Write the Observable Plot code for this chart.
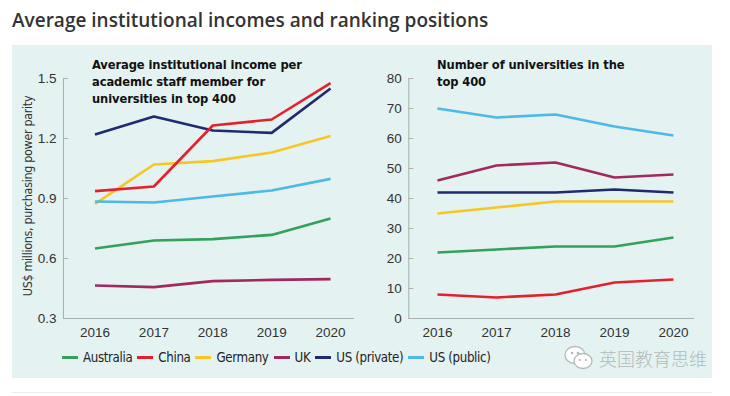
<!DOCTYPE html>
<html>
<head>
<meta charset="utf-8">
<script src="https://cdn.jsdelivr.net/npm/d3@7"></script>
<script src="https://cdn.jsdelivr.net/npm/@observablehq/plot@0.6"></script>
<style>
  html, body { margin: 0; padding: 0; background: #fff; }
  #page { position: relative; width: 730px; height: 396px; overflow: hidden; }
  #title { position: absolute; left: 12px; top: 7px; font-family: "Open Sans", sans-serif; font-weight: 600; font-size: 19px; color: #333; white-space: nowrap; }
  #panel { position: absolute; left: 12px; top: 45px; width: 700px; height: 333px; background: #e4f2f2; }
  #rule { position: absolute; left: 12px; top: 392px; width: 700px; height: 1px; background: #ececec; }
  .chart { position: absolute; top: 0; }
  .sub { position: absolute; font-family: "Liberation Sans Narrow", "DejaVu Sans Condensed", sans-serif; font-weight: bold; font-size: 12.8px; line-height: 17px; color: #111; white-space: nowrap; letter-spacing: -0.1px; }
  #ylabel { position: absolute; left: 27px; top: 196px; transform: translate(-50%, -50%) rotate(-90deg); font-family: "Liberation Sans Narrow", "DejaVu Sans Condensed", sans-serif; font-size: 12.5px; letter-spacing: -0.35px; color: #333; white-space: nowrap; }
  #legend { position: absolute; left: 62px; top: 350px; display: flex; align-items: center; font-family: "Liberation Sans Narrow", "DejaVu Sans Condensed", sans-serif; font-size: 13.2px; letter-spacing: -0.35px; color: #222; white-space: nowrap; }
  .item { display: flex; align-items: center; margin-right: 5px; }
  .sw { width: 16px; height: 3px; margin-right: 5px; }
  #wm { position: absolute; left: 563px; top: 344px; display: flex; align-items: center; color: #b3baba; font-family: "Noto Sans CJK SC", sans-serif; font-weight: 300; font-size: 18px; white-space: nowrap; }
</style>
</head>
<body>
<div id="page">
  <div id="title"></div>
  <div id="panel"></div>
  <div id="rule"></div>
  <div id="left" class="chart" style="left:0px"></div>
  <div id="right" class="chart" style="left:365px"></div>
  <div id="subL" class="sub" style="left:92px; top:56px"></div>
  <div id="subR" class="sub" style="left:437px; top:56px"></div>
  <div id="ylabel"></div>
  <div id="legend"></div>
  <div id="wm"></div>
</div>
<script>
const titleText = "Average institutional incomes and ranking positions";
const subtitleLeft = ["Average institutional income per", "academic staff member for", "universities in top 400"];
const subtitleRight = ["Number of universities in the", "top 400"];
const yLabelLeft = "US$ millions, purchasing power parity";
const watermark = "英国教育思维";

const years = [2016, 2017, 2018, 2019, 2020];
const seriesNames = ["Australia", "China", "Germany", "UK", "US (private)", "US (public)"];
const seriesColors = ["#33a05c", "#e3202c", "#f6c623", "#a2285e", "#1f2b6e", "#4eb8e6"];

// Left panel: average institutional income (US$ millions, PPP)
const australiaIncome = [0.65, 0.69, 0.697, 0.718, 0.80];
const chinaIncome     = [0.937, 0.96, 1.265, 1.295, 1.477];
const germanyIncome   = [0.873, 1.07, 1.087, 1.13, 1.213];
const ukIncome        = [0.465, 0.457, 0.487, 0.493, 0.497];
const usPrivateIncome = [1.22, 1.31, 1.24, 1.228, 1.45];
const usPublicIncome  = [0.885, 0.88, 0.91, 0.94, 0.998];

// Right panel: number of universities in the top 400
const australiaCount = [22, 23, 24, 24, 27];
const chinaCount     = [8, 7, 8, 12, 13];
const germanyCount   = [35, 37, 39, 39, 39];
const ukCount        = [46, 51, 52, 47, 48];
const usPrivateCount = [42, 42, 42, 43, 42];
const usPublicCount  = [70, 67, 68, 64, 61];

const incomeTicks = [0.3, 0.6, 0.9, 1.2, 1.5];
const countTicks = [0, 10, 20, 30, 40, 50, 60, 70, 80];

const drawOrder = ["Australia", "Germany", "US (public)", "UK", "US (private)", "China"];

function toRows(arrays) {
  const rows = [];
  drawOrder.forEach(name => {
    const i = seriesNames.indexOf(name);
    arrays[i].forEach((v, j) => rows.push({series: name, year: years[j], value: v}));
  });
  return rows;
}
const incomeRows = toRows([australiaIncome, chinaIncome, germanyIncome, ukIncome, usPrivateIncome, usPublicIncome]);
const countRows = toRows([australiaCount, chinaCount, germanyCount, ukCount, usPrivateCount, usPublicCount]);

const tickFont = {fontFamily: "'Liberation Sans', Arial, sans-serif", fontSize: "13.5px"};
const axisGray = "#a9b0b0";

function makeChart(rows, opts) {
  return Plot.plot({
    width: 365, height: 345,
    marginLeft: opts.ml, marginRight: opts.mr, marginTop: 78, marginBottom: 27,
    style: {background: "transparent", color: "#333", ...tickFont},
    x: {domain: opts.xDomain},
    y: {domain: opts.yDomain},
    color: {domain: seriesNames, range: seriesColors},
    marks: [
      Plot.frame({anchor: "left", stroke: axisGray, strokeOpacity: 1}),
      Plot.frame({anchor: "bottom", stroke: axisGray, strokeOpacity: 1}),
      Plot.axisY(opts.yTicks, {anchor: "left", tickSize: 5, dx: 5, stroke: axisGray, strokeOpacity: 1, tickFormat: () => "", label: null}),
      Plot.axisY(opts.yTicks, {anchor: "left", tickSize: 0, tickPadding: 7, tickFormat: opts.yFormat, label: null, fill: "#333"}),
      Plot.axisX(years, {anchor: "bottom", tickSize: 0, tickPadding: 9, tickFormat: d => String(d), label: null, fill: "#333"}),
      Plot.line(rows, {x: "year", y: "value", z: "series", stroke: "series", strokeWidth: 2.6, strokeLinejoin: "round", strokeLinecap: "butt", curve: "linear"})
    ]
  });
}

document.getElementById("left").appendChild(makeChart(incomeRows, {
  ml: 63, mr: 12, xDomain: [2015.465, 2020.39], yDomain: [0.3, 1.5],
  yTicks: incomeTicks, yFormat: d3.format(".1f")
}));
document.getElementById("right").appendChild(makeChart(countRows, {
  ml: 43.3, mr: 37, xDomain: [2015.514, 2020.34], yDomain: [0, 80],
  yTicks: countTicks, yFormat: d => String(d)
}));

document.getElementById("title").textContent = titleText;
document.getElementById("subL").innerHTML = subtitleLeft.join("<br>");
document.getElementById("subR").innerHTML = subtitleRight.join("<br>");
document.getElementById("ylabel").textContent = yLabelLeft;

const legend = document.getElementById("legend");
seriesNames.forEach((name, i) => {
  const item = document.createElement("div");
  item.className = "item";
  const sw = document.createElement("div");
  sw.className = "sw";
  sw.style.background = seriesColors[i];
  const t = document.createElement("span");
  t.textContent = name;
  item.appendChild(sw); item.appendChild(t);
  legend.appendChild(item);
});

const wm = document.getElementById("wm");
wm.innerHTML = '<svg width="32" height="28" viewBox="0 0 32 28" style="margin-right:4px">' +
  '<ellipse cx="12" cy="11" rx="10" ry="8.5" fill="#fff" stroke="#b3baba" stroke-width="1.3"/>' +
  '<ellipse cx="20" cy="17" rx="9" ry="7.5" fill="#fff" stroke="#b3baba" stroke-width="1.3"/>' +
  '<circle cx="9" cy="9" r="1.3" fill="#b3baba"/><circle cx="15" cy="9" r="1.3" fill="#b3baba"/>' +
  '<circle cx="17" cy="16" r="1.1" fill="#b3baba"/><circle cx="23" cy="16" r="1.1" fill="#b3baba"/>' +
  '</svg><span></span>';
wm.querySelector("span").textContent = watermark;
</script>
</body>
</html>
